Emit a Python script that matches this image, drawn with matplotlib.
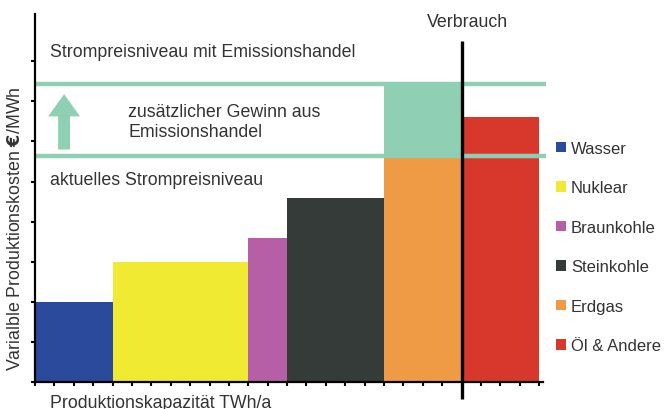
import matplotlib
matplotlib.use("Agg")
import matplotlib.pyplot as plt

plt.rcParams["font.family"] = ["Liberation Sans", "DejaVu Sans"]

# Merit-Order: Kraftwerkstypen nach variablen Kosten sortiert
quellen = ["Wasser", "Nuklear", "Braunkohle", "Steinkohle", "Erdgas", "Öl & Andere"]
kapazitaet = [4, 7, 2, 5, 4, 4]          # Breite der Blöcke (TWh/a)
kosten = [2.0, 3.0, 3.6, 4.6, 5.6, 6.6]   # variable Kosten (€/MWh, relativ)
farben = ["#2b4a9c", "#f0ea32", "#b75fa6", "#343b38", "#ef9a45", "#d8372c"]

preis_aktuell = 5.63
preis_emission = 7.43
verbrauch = 22
gruen = "#8fcfb3"
text_farbe = "#333333"
fs = 12.8

fig = plt.figure(figsize=(6.64, 4.10), dpi=100)
ax = fig.add_axes([35 / 664, 27 / 410, 508 / 664, 368 / 410])

# Blöcke nebeneinander
links = 0
for q, b, h, c in zip(quellen, kapazitaet, kosten, farben):
    ax.bar(links, h, width=b, align="edge", color=c, label=q, zorder=2)
    links += b

# Zusatzgewinn durch Emissionshandel über dem Erdgas-Block
erdgas_start = sum(kapazitaet[:4])
ax.bar(erdgas_start, preis_emission - kosten[4], width=kapazitaet[4], bottom=kosten[4],
       align="edge", color=gruen, zorder=2)

# Preisniveaus
for p in (preis_aktuell, preis_emission):
    ax.plot([0, 26.35], [p, p], color=gruen, lw=3.2, zorder=3, clip_on=False,
            solid_capstyle="butt")

# Verbrauchslinie
ax.plot([verbrauch, verbrauch], [-0.42, 8.5], color="black", lw=2.4, zorder=4,
        clip_on=False, solid_capstyle="butt")
ax.text(verbrauch + 0.3, 9.0, "Verbrauch", ha="center", va="center", fontsize=fs,
        color=text_farbe)

# Pfeil
ax.annotate("", xy=(1.5, 7.18), xytext=(1.5, 5.8),
            arrowprops=dict(arrowstyle="simple,head_width=2.3,head_length=1.6,tail_width=0.86",
                            color=gruen, mutation_scale=10, shrinkA=0, shrinkB=0, lw=0))

ax.text(0.78, 8.25, "Strompreisniveau mit Emissionshandel", ha="left", va="center",
        fontsize=fs, color=text_farbe)
ax.text(4.8, 6.5, "zusätzlicher Gewinn aus\nEmissionshandel", ha="left", va="center",
        fontsize=fs, color=text_farbe, linespacing=1.2)
ax.text(0.78, 5.04, "aktuelles Strompreisniveau", ha="left", va="center",
        fontsize=fs, color=text_farbe)

# Achsenbeschriftungen
ax.text(0.78, -0.5, "Produktionskapazität TWh/a", ha="left", va="center",
        fontsize=fs, color=text_farbe)
ax.text(-1.03, 3.85, r"Varialble Produktionskosten $\mathbf{€}$/MWh", rotation=90,
        ha="center", va="center", fontsize=fs, color=text_farbe)

ax.set_xlim(0, 26.2)
ax.set_ylim(0, 9.18)
ax.set_xticks(range(0, 27))
ax.set_yticks(range(0, 9))
ax.set_xticklabels([])
ax.set_yticklabels([])
ax.tick_params(direction="out", length=3, width=1.5, color="black")
for s in ("top", "right"):
    ax.spines[s].set_visible(False)
for s in ("left", "bottom"):
    ax.spines[s].set_linewidth(1.6)
    ax.spines[s].set_zorder(5)

fig.legend(handles=ax.patches[:6], labels=quellen, loc="upper left",
           bbox_to_anchor=(556 / 664, 1 - 142 / 410),
           frameon=False, fontsize=12, handlelength=0.6, handleheight=0.6,
           handletextpad=0.3, labelspacing=1.47, borderaxespad=0, borderpad=0,
           labelcolor=text_farbe)

fig.savefig("out.png", dpi=100)
